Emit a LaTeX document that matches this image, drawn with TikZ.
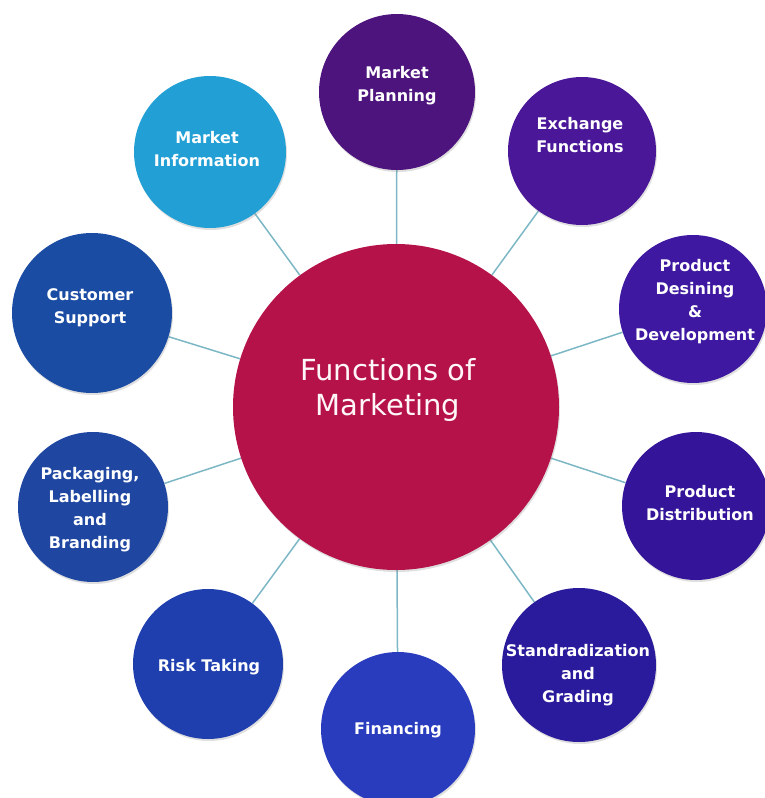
\documentclass[tikz,border=0pt]{standalone}
\usepackage{fontspec}
\setmainfont{DejaVu Sans}
\usepackage{xcolor}
\usetikzlibrary{shadows,backgrounds}

\definecolor{hubred}{HTML}{B5124A}
\definecolor{infoblue}{HTML}{22A0D6}
\definecolor{planviolet}{HTML}{4E147E}
\definecolor{exchviolet}{HTML}{4A1799}
\definecolor{designviolet}{HTML}{3E18A0}
\definecolor{distrviolet}{HTML}{34159A}
\definecolor{gradeblue}{HTML}{2A1B9C}
\definecolor{finblue}{HTML}{2A3CBE}
\definecolor{riskblue}{HTML}{203FAE}
\definecolor{packblue}{HTML}{1F47A2}
\definecolor{supportblue}{HTML}{1B4CA3}
\definecolor{linkcol}{HTML}{7DB7C6}

\begin{document}
\begin{tikzpicture}[x=1pt,y=-1pt,
    bubble/.style={circle,minimum size=#1,inner sep=0pt,
      drop shadow={opacity=0.25,shadow xshift=1pt,shadow yshift=-2pt}},
    btext/.style={text=white,align=center,inner sep=0pt,
      font=\bfseries\fontsize{16}{23}\selectfont},
    link/.style={draw=linkcol,line width=1.5pt}]
  \useasboundingbox (0,0) rectangle (765,798);

  \node[bubble=326pt,fill=hubred] (hub) at (396,407) {};
  \node[text=white!88!pink,align=center,inner sep=0pt,
        font=\fontsize{29}{35}\selectfont] (hub-t) at (388,390)
        {Functions of\\Marketing};

  \node[bubble=156pt,fill=planviolet] (plan) at (397,92) {};
  \node[btext] (plan-t) at (397,86) {Market\\Planning};
  \node[bubble=148pt,fill=exchviolet] (exch) at (582,151) {};
  \node[btext] (exch-t) at (580,135) {Exchange\\Functions};
  \node[bubble=148pt,fill=designviolet] (design) at (693,309) {};
  \node[btext] (design-t) at (695,302) {Product\\Desining\\\&\\Development};
  \node[bubble=148pt,fill=distrviolet] (distr) at (696,506) {};
  \node[btext] (distr-t) at (700,503) {Product\\Distribution};
  \node[bubble=154pt,fill=gradeblue] (grade) at (579,665) {};
  \node[btext] (grade-t) at (578,675) {Standradization\\and\\Grading};
  \node[bubble=154pt,fill=finblue] (fin) at (398,729) {};
  \node[btext] (fin-t) at (398,730) {Financing};
  \node[bubble=150pt,fill=riskblue] (risk) at (208,664) {};
  \node[btext] (risk-t) at (209,667) {Risk Taking};
  \node[bubble=150pt,fill=packblue] (pack) at (93,507) {};
  \node[btext] (pack-t) at (90,510) {Packaging,\\Labelling\\and\\Branding};
  \node[bubble=160pt,fill=supportblue] (support) at (92,313) {};
  \node[btext] (support-t) at (90,308) {Customer\\Support};
  \node[bubble=152pt,fill=infoblue] (info) at (210,152) {};
  \node[btext] (info-t) at (207,149) {Market\\Information};

  \begin{scope}[on background layer]
    \foreach \n in {plan,exch,design,distr,grade,fin,risk,pack,support,info}
      \path[link] (hub) -- (\n);
  \end{scope}
\end{tikzpicture}
\end{document}
